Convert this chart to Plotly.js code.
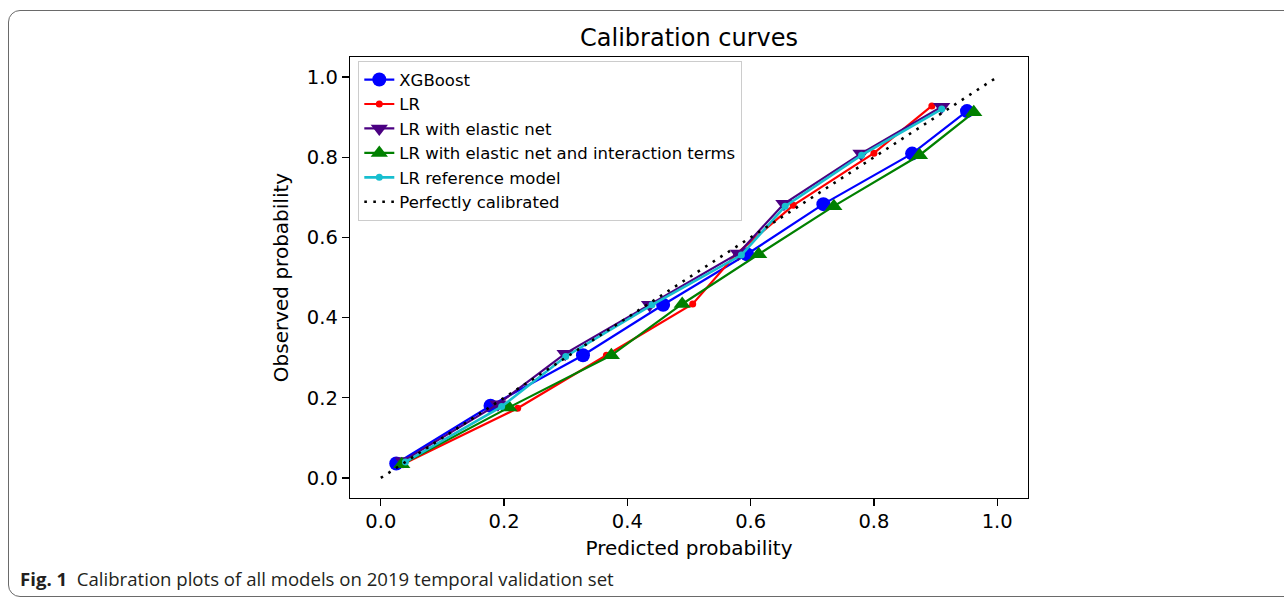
<!DOCTYPE html>
<html>
<head>
<meta charset="utf-8">
<script src="https://cdn.plot.ly/plotly-3.0.1.min.js"></script>
<style>
  html, body { margin: 0; padding: 0; background: #fff; }
  #wrap { position: relative; width: 1284px; height: 599px; overflow: hidden; }
  #chart { position: absolute; left: 0; top: 0; width: 1284px; height: 599px; }
  #frame { position: absolute; left: 8px; top: 10px; width: 1300px; height: 587px;
           border: 1.3px solid #6a6a6a; border-radius: 12px; pointer-events: none; box-sizing: border-box; }
</style>
</head>
<body>
<div id="wrap">
  <div id="chart"></div>
  <div id="frame"></div>
</div>
<script>
// ---- data ----
const seriesNames = ["XGBoost", "LR", "LR with elastic net",
                     "LR with elastic net and interaction terms", "LR reference model",
                     "Perfectly calibrated"];

const xgbX = [0.025, 0.178, 0.328, 0.458, 0.594, 0.718, 0.862, 0.951];
const xgbY = [0.036, 0.180, 0.306, 0.432, 0.558, 0.683, 0.809, 0.915];

const lrX = [0.038, 0.222, 0.366, 0.506, 0.577, 0.669, 0.800, 0.894];
const lrY = [0.036, 0.174, 0.306, 0.434, 0.559, 0.680, 0.810, 0.928];

const enX = [0.036, 0.190, 0.299, 0.436, 0.580, 0.654, 0.779, 0.910];
const enY = [0.042, 0.184, 0.310, 0.432, 0.560, 0.684, 0.809, 0.926];

const eniX = [0.034, 0.208, 0.374, 0.489, 0.613, 0.735, 0.874, 0.962];
const eniY = [0.034, 0.176, 0.306, 0.434, 0.558, 0.678, 0.805, 0.912];

const refX = [0.040, 0.196, 0.300, 0.440, 0.585, 0.656, 0.780, 0.910];
const refY = [0.040, 0.178, 0.303, 0.432, 0.556, 0.678, 0.805, 0.920];

const diagX = [0, 1];
const diagY = [0, 1];

const xTicks = [0.0, 0.2, 0.4, 0.6, 0.8, 1.0];
const yTicks = [0.0, 0.2, 0.4, 0.6, 0.8, 1.0];
const tickText = ["0.0", "0.2", "0.4", "0.6", "0.8", "1.0"];

const titleText = "Calibration curves";
const xTitle = "Predicted probability";
const yTitle = "Observed probability";
const captionText = "<b>Fig. 1</b>  Calibration plots of all models on 2019 temporal validation set";

// ---- chart ----
const F = "DejaVu Sans, sans-serif";
const W = 1284, H = 599;
const L = 350, R = 1028, T = 57, B = 498;

function tr(x, y, name, color, symbol, size, width) {
  return { x: x, y: y, name: name, type: "scatter", mode: "lines+markers",
           line: { color: color, width: width },
           marker: { color: color, symbol: symbol, size: size, line: { width: 0 } } };
}

const traces = [
  tr(xgbX, xgbY, seriesNames[0], "#0000ff", "circle", 14, 2.2),
  tr(lrX, lrY, seriesNames[1], "#ff0000", "circle", 7, 2.2),
  tr(enX, enY, seriesNames[2], "#4b0082", "triangle-down", 15, 2.2),
  tr(eniX, eniY, seriesNames[3], "#008000", "triangle-up", 15, 2.2),
  tr(refX, refY, seriesNames[4], "#17becf", "circle", 7, 2.6),
  { x: diagX, y: diagY, name: seriesNames[5], type: "scatter", mode: "lines",
    line: { color: "#000000", width: 2.6, dash: "2.6px,6.4px" } }
];

const layout = {
  width: W, height: H,
  margin: { l: L, r: W - R, t: T, b: H - B, pad: 0 },
  paper_bgcolor: "#ffffff", plot_bgcolor: "#ffffff",
  font: { family: F, color: "#000000", size: 16 },
  title: { text: titleText, font: { family: F, size: 24, color: "#000" },
           x: (L + R) / 2 / W, xanchor: "center", xref: "container",
           y: 1 - 38 / H, yanchor: "middle", yref: "container" },
  xaxis: {
    range: [-0.05, 1.05], tickvals: xTicks, ticktext: tickText,
    ticks: "outside", ticklen: 7, tickwidth: 1.3, tickcolor: "#000",
    showline: true, linecolor: "#000", linewidth: 1.3, mirror: true,
    showgrid: false, zeroline: false, tickfont: { family: F, size: 19.5 },
    ticklabelstandoff: -2,
    title: { text: xTitle, font: { family: F, size: 20 }, standoff: 9 },
    automargin: false
  },
  yaxis: {
    range: [-0.05, 1.05], tickvals: yTicks, ticktext: tickText,
    ticks: "outside", ticklen: 7, tickwidth: 1.3, tickcolor: "#000",
    showline: true, linecolor: "#000", linewidth: 1.3, mirror: true,
    showgrid: false, zeroline: false, tickfont: { family: F, size: 19.5 },
    title: { text: yTitle, font: { family: F, size: 20 }, standoff: 12 },
    automargin: false
  },
  showlegend: true,
  legend: {
    x: (358 - L) / (R - L), y: (B - 61) / (B - T), xanchor: "left", yanchor: "top",
    bgcolor: "rgba(255,255,255,0.85)", bordercolor: "#cccccc", borderwidth: 1.3,
    font: { family: F, size: 16.5, color: "#000" },
    tracegroupgap: 0, itemwidth: 30
  },
  annotations: [{
    text: captionText, xref: "paper", yref: "paper",
    x: (18 - L) / (R - L), y: (B - 578) / (B - T), xanchor: "left", yanchor: "middle",
    showarrow: false, align: "left",
    font: { family: "Liberation Sans Narrow, Open Sans, sans-serif", size: 18.6, color: "#231f20" }
  }]
};

Plotly.newPlot("chart", traces, layout, { displayModeBar: false, staticPlot: true });
</script>
</body>
</html>
